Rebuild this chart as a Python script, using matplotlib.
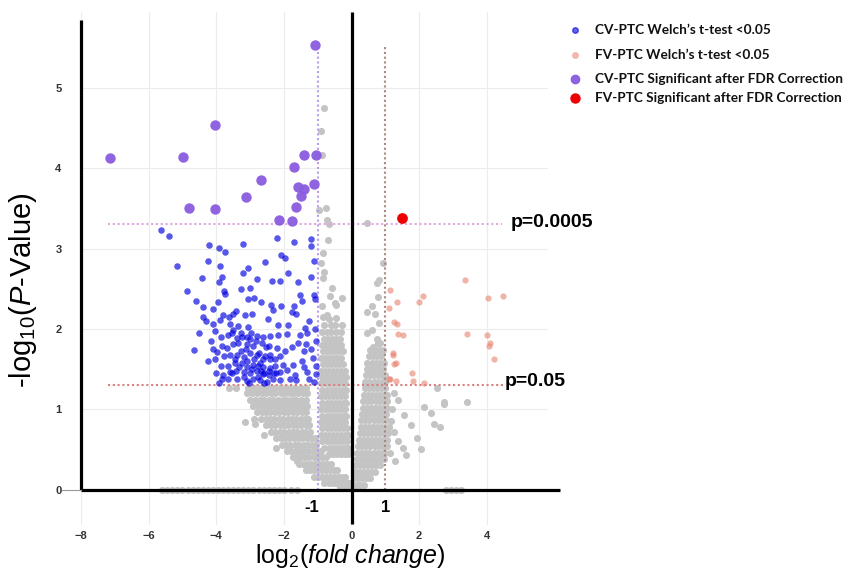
import matplotlib.pyplot as plt
import numpy as np
from matplotlib.lines import Line2D

plt.rcParams['font.family'] = ['Liberation Sans', 'DejaVu Sans']
plt.rcParams['mathtext.fontset'] = 'custom'
plt.rcParams['mathtext.rm'] = 'Liberation Sans'
plt.rcParams['mathtext.it'] = 'Liberation Sans:italic'

# --- data (log2 fold change, -log10 p) ---
# CV-PTC significant after FDR correction (purple)
cv_fdr_x = [-1.07, -4.04, -7.14, -4.98, -1.40, -1.06, -1.70, -2.69, -1.57, -1.40,
            -1.49, -1.11, -3.12, -4.80, -4.04, -1.63, -2.15, -1.75]
cv_fdr_y = [5.54, 4.54, 4.13, 4.14, 4.16, 4.16, 4.02, 3.85, 3.77, 3.74,
            3.66, 3.81, 3.64, 3.50, 3.49, 3.52, 3.36, 3.34]

# FV-PTC significant after FDR correction (red)
fv_fdr_x = [1.49]
fv_fdr_y = [3.38]

# FV-PTC Welch's t-test < 0.05 (pink)
fv_x = [3.36, 4.03, 4.49, 2.11, 2.01, 1.14, 1.35, 1.11, 1.27, 1.34, 1.37, 1.53, 1.24,
        1.31, 1.27, 3.40, 4.02, 4.10, 4.08, 4.20, 1.78, 1.14, 1.32, 1.81, 2.14, 1.22, 1.12]
fv_y = [2.61, 2.39, 2.41, 2.41, 2.33, 2.49, 2.33, 2.26, 2.08, 2.06, 1.94, 1.92, 1.68,
        1.58, 1.56, 1.94, 1.92, 1.83, 1.79, 1.62, 1.45, 1.37, 1.35, 1.35, 1.33, 1.70, 1.38]

# CV-PTC Welch's t-test < 0.05 (blue)
cv_x = [-5.62, -5.39, -4.21, -3.93, -3.75, -3.20, -2.21, -1.71, -1.20, -1.20,
        -5.16, -4.25, -3.90, -2.57, -2.08, -1.97, -3.06, -3.22, -4.41, -3.82,
        -3.92, -2.79, -2.35, -1.58, -1.20, -4.88, -3.78, -3.75, -3.27, -3.00,
        -3.05, -2.89, -2.69, -2.38, -2.08, -2.31, -1.53, -1.45, -1.12, -1.09,
        -1.70, -1.77, -1.65, -4.38, -4.39, -4.30, -4.09, -3.89, -3.80, -3.61,
        -3.42, -3.50, -3.15, -2.95, -3.59, -3.36, -3.51, -3.07, -3.27, -4.04,
        -3.86, -3.64, -3.53, -3.40, -3.25, -3.10, -3.00, -2.79, -2.61, -2.41,
        -2.17, -1.92, -1.52, -1.37, -1.33, -1.07, -4.67, -4.11, -3.99, -3.84,
        -3.69, -3.50, -3.35, -3.10, -2.90, -2.66, -2.45, -2.21, -1.77, -1.57,
        -1.36, -1.19, -4.04, -3.77, -3.59, -3.38, -3.19, -3.00, -2.81, -2.71,
        -2.56, -2.41, -2.11, -3.87, -3.64, -3.45, -3.25, -3.10, -2.90, -2.76,
        -2.61, -2.41, -2.26, -1.13, -3.79, -3.59, -3.42, -3.19, -3.00, -2.81,
        -2.63, -2.45, -2.29, -2.11, -1.92, -1.33, -1.05, -1.05, -3.84, -3.64,
        -3.38, -3.10, -2.90, -2.71, -2.51, -2.31, -2.13, -1.82, -1.64, -3.93,
        -2.45, -3.28, -3.08, -2.93, -2.78, -2.63, -2.53, -2.98, -3.44, -3.54,
        -2.73, -2.83, -3.18, -2.58, -2.42, -2.27, -2.68, -2.88, -3.34, -3.13,
        -3.03, -2.58, -2.22, -2.02, -1.97, -1.72, -1.46, -1.26, -1.41, -1.67,
        -1.10, -1.06, -1.26, -1.41, -4.15, -4.25, -4.50, -4.00, -4.10, -1.87,
        -2.17, -2.48, -3.95, -4.61, -2.12, -1.11, -1.87]
cv_y = [3.23, 3.16, 3.05, 3.01, 2.96, 3.06, 3.13, 3.08, 3.12, 3.03,
        2.78, 2.84, 2.78, 2.83, 2.92, 2.88, 2.76, 2.69, 2.63, 2.65,
        2.59, 2.62, 2.60, 2.58, 2.65, 2.47, 2.47, 2.44, 2.50, 2.51,
        2.37, 2.39, 2.33, 2.30, 2.29, 2.23, 2.42, 2.35, 2.42, 2.37,
        2.28, 2.21, 2.19, 2.27, 2.15, 2.10, 2.06, 2.11, 2.17, 2.15,
        2.22, 2.19, 2.17, 2.18, 2.06, 2.03, 1.99, 2.02, 1.95, 1.97,
        1.90, 1.93, 1.95, 1.89, 1.90, 1.90, 1.87, 1.91, 1.90, 1.91,
        1.92, 1.94, 1.92, 2.01, 1.95, 2.00, 1.74, 1.75, 1.71, 1.79,
        1.76, 1.81, 1.83, 1.81, 1.79, 1.83, 1.79, 1.76, 1.78, 1.83,
        1.81, 1.75, 1.62, 1.66, 1.67, 1.68, 1.65, 1.70, 1.68, 1.58,
        1.66, 1.62, 1.66, 1.54, 1.54, 1.57, 1.58, 1.52, 1.55, 1.54,
        1.52, 1.51, 1.54, 1.64, 1.42, 1.46, 1.48, 1.46, 1.45, 1.47,
        1.44, 1.42, 1.45, 1.46, 1.49, 1.46, 1.54, 1.44, 1.38, 1.38,
        1.38, 1.35, 1.37, 1.36, 1.34, 1.37, 1.36, 1.37, 1.36, 1.33,
        1.48, 1.72, 1.60, 1.50, 1.40, 1.62, 1.78, 1.95, 1.62, 1.45,
        1.70, 1.85, 1.40, 1.45, 1.68, 1.62, 1.48, 1.63, 1.52, 1.75,
        1.33, 1.33, 1.45, 1.55, 1.72, 1.55, 1.60, 1.38, 1.52, 1.42,
        1.34, 1.85, 2.10, 1.73, 1.85, 1.60, 1.95, 1.45, 2.25, 2.05,
        2.05, 2.12, 2.33, 2.35, 2.60, 2.85, 2.70]

# not significant (grey) -- dense cloud read row by row: (y, [x, ...])
gray_rows = [
    (1.27, [-3.62, -3.41, -3.05, -2.88, -2.72, -2.55, -2.42, -2.28, -2.12, -1.98, -1.82, -1.66, -1.50, -1.35]),
    (1.20, [-3.10, -2.95, -2.80, -2.66, -2.52, -2.38, -2.25, -2.10, -1.96, -1.83, -1.70, -1.57, -1.44, -1.32]),
    (1.12, [-3.00, -2.86, -2.72, -2.58, -2.45, -2.31, -2.18, -2.04, -1.90, -1.77, -1.63, -1.50, -1.36]),
    (1.04, [-2.92, -2.78, -2.63, -2.50, -2.37, -2.23, -2.10, -1.96, -1.83, -1.70, -1.56, -1.42, -1.32]),
    (0.96, [-2.80, -2.66, -2.53, -2.40, -2.27, -2.14, -2.00, -1.87, -1.74, -1.60, -1.47, -1.35]),
    (0.88, [-2.67, -2.54, -2.41, -2.28, -2.15, -2.02, -1.89, -1.76, -1.63, -1.50, -1.38, -1.28]),
    (0.80, [-2.52, -2.39, -2.26, -2.13, -2.00, -1.87, -1.74, -1.61, -1.48, -1.36, -1.25]),
    (0.72, [-2.37, -2.25, -2.12, -1.99, -1.86, -1.73, -1.60, -1.47, -1.35, -1.22]),
    (0.64, [-2.22, -2.10, -1.97, -1.84, -1.71, -1.58, -1.45, -1.33, -1.20, -1.08]),
    (0.56, [-2.06, -1.94, -1.81, -1.68, -1.55, -1.42, -1.30, -1.18, -1.05]),
    (0.48, [-1.90, -1.78, -1.65, -1.52, -1.40, -1.28, -1.15, -1.02, -0.90]),
    (0.40, [-1.74, -1.62, -1.50, -1.37, -1.25, -1.12, -1.00, -0.88, -0.76]),
    (0.32, [-1.56, -1.44, -1.32, -1.20, -1.08, -0.96, -0.84, -0.72, -0.60]),
    (0.24, [-1.36, -1.24, -1.12, -1.00, -0.88, -0.76, -0.64, -0.52, -0.42]),
    (0.16, [-1.12, -1.00, -0.88, -0.76, -0.64, -0.52, -0.41, -0.30, -0.20]),
    (0.08, [-0.80, -0.68, -0.56, -0.45, -0.34, -0.24, -0.14, -0.06]),
    (0.03, [-0.35, -0.22, -0.10, 0.00, 0.08]),
    # band just left of zero
    (0.44, [-0.68, -0.56, -0.44, -0.32, -0.20, -0.10]),
    (0.52, [-0.80, -0.68, -0.55, -0.43, -0.31, -0.19, -0.09]),
    (0.60, [-0.86, -0.74, -0.62, -0.50, -0.38, -0.26, -0.14]),
    (0.68, [-0.90, -0.78, -0.66, -0.54, -0.42, -0.30, -0.18, -0.10]),
    (0.76, [-0.86, -0.74, -0.62, -0.50, -0.38, -0.26, -0.14]),
    (0.84, [-0.90, -0.78, -0.66, -0.54, -0.42, -0.30, -0.18]),
    (0.92, [-0.86, -0.74, -0.62, -0.50, -0.38, -0.26, -0.15]),
    (1.00, [-0.90, -0.78, -0.66, -0.54, -0.42, -0.30, -0.19]),
    (1.08, [-0.86, -0.74, -0.62, -0.50, -0.38, -0.26, -0.15]),
    (1.16, [-0.90, -0.78, -0.66, -0.54, -0.42, -0.30, -0.19]),
    (1.24, [-0.86, -0.74, -0.62, -0.50, -0.38, -0.26, -0.16]),
    (1.32, [-0.90, -0.78, -0.66, -0.54, -0.42, -0.30, -0.20]),
    (1.40, [-0.86, -0.74, -0.62, -0.50, -0.38, -0.26, -0.17]),
    (1.48, [-0.90, -0.78, -0.66, -0.54, -0.42, -0.30, -0.20]),
    (1.56, [-0.85, -0.73, -0.61, -0.49, -0.37, -0.25]),
    (1.64, [-0.90, -0.78, -0.66, -0.54, -0.42, -0.30]),
    (1.72, [-0.84, -0.72, -0.60, -0.48, -0.36, -0.25]),
    (1.80, [-0.88, -0.76, -0.64, -0.52, -0.40, -0.30]),
    (1.88, [-0.82, -0.70, -0.58, -0.46, -0.35]),
    (1.96, [-0.86, -0.72, -0.60, -0.45, -0.30]),
    (2.05, [-0.80, -0.62, -0.50, -0.29]),
    # right arm
    (0.06, [0.05, 0.15, 0.26, 0.36]),
    (0.14, [0.08, 0.20, 0.32, 0.44, 0.55]),
    (0.22, [0.10, 0.22, 0.34, 0.46, 0.58, 0.70]),
    (0.30, [0.13, 0.25, 0.37, 0.49, 0.61, 0.73, 0.85]),
    (0.38, [0.15, 0.27, 0.39, 0.51, 0.63, 0.75, 0.87, 0.97]),
    (0.46, [0.17, 0.29, 0.41, 0.53, 0.65, 0.77, 0.89, 1.00]),
    (0.54, [0.20, 0.32, 0.44, 0.56, 0.68, 0.80, 0.92, 1.04]),
    (0.62, [0.22, 0.34, 0.46, 0.58, 0.70, 0.82, 0.94, 1.06]),
    (0.70, [0.25, 0.37, 0.49, 0.61, 0.73, 0.85, 0.97, 1.08]),
    (0.78, [0.27, 0.39, 0.51, 0.63, 0.75, 0.87, 0.99, 1.10]),
    (0.86, [0.29, 0.41, 0.53, 0.65, 0.77, 0.89, 1.01]),
    (0.94, [0.31, 0.43, 0.55, 0.67, 0.79, 0.91, 1.03]),
    (1.02, [0.33, 0.45, 0.57, 0.69, 0.81, 0.93, 1.05]),
    (1.10, [0.35, 0.47, 0.59, 0.71, 0.83, 0.95, 1.06]),
    (1.18, [0.37, 0.49, 0.61, 0.73, 0.85, 0.97, 1.06]),
    (1.26, [0.39, 0.51, 0.63, 0.75, 0.87, 0.99]),
    (1.34, [0.41, 0.53, 0.65, 0.77, 0.89, 1.00]),
    (1.42, [0.43, 0.55, 0.67, 0.79, 0.91, 1.00]),
    (1.50, [0.45, 0.57, 0.69, 0.81, 0.93]),
    (1.58, [0.47, 0.60, 0.72, 0.84, 0.96]),
    (1.66, [0.52, 0.64, 0.76, 0.88]),
    (1.74, [0.56, 0.68, 0.80, 0.92]),
    # hidden under the baseline
    (-0.01, [-5.60, -5.45, -5.30, -5.15, -5.00, -4.85, -4.70, -4.55, -4.40, -4.25, -4.10,
             -3.95, -3.80, -3.65, -3.50, -3.35, -3.20, -3.05, -2.90, -2.75, -2.60, -2.45,
             -2.30, -2.15, -2.00, -1.80, -1.60, 2.80, 2.95, 3.10, 3.25]),
]
gray_sparse = [
    (-0.81, 4.75), (-0.91, 4.46), (-0.88, 4.17), (-0.75, 3.50), (-0.95, 3.48), (-0.72, 3.36),
    (-0.66, 3.31), (-0.70, 3.11), (-0.85, 2.95), (-0.91, 2.82), (-0.81, 2.71), (-0.83, 2.63),
    (-0.59, 2.51), (-0.27, 2.38), (-0.64, 2.41), (-0.49, 2.32), (-0.88, 2.28), (-0.72, 2.17),
    (-0.46, 2.30), (-0.84, 2.15), (-0.66, 2.12), (-0.45, 2.14),
    (0.45, 3.32), (0.94, 2.82), (0.82, 2.61), (0.76, 2.57), (0.79, 2.40), (0.60, 2.28),
    (0.47, 2.21), (0.70, 2.19), (0.82, 2.07), (0.60, 1.99), (0.47, 1.95), (0.75, 1.88),
    (0.79, 1.82), (0.63, 1.78), (0.83, 1.83),
    (1.36, 1.11), (1.56, 0.93), (1.75, 0.80), (1.95, 0.64), (2.14, 1.03), (2.34, 0.95),
    (2.43, 0.82), (2.72, 1.07), (2.63, 0.78), (2.04, 0.50), (3.41, 1.09), (2.53, 1.27),
    (1.51, 0.52), (1.61, 0.43), (1.27, 0.72), (1.36, 0.60), (1.20, 1.00), (1.25, 1.20),
    (1.18, 0.85), (1.30, 0.35), (1.15, 0.45), (2.74, 1.09),
    (-3.16, 0.84), (-2.87, 0.88), (-2.84, 0.82), (-2.58, 0.68), (-2.24, 0.52), (-1.61, 0.35),
]

gray_x = [x for y, xs in gray_rows for x in xs] + [p[0] for p in gray_sparse]
gray_y = [y for y, xs in gray_rows for x in xs] + [p[1] for p in gray_sparse]

leg_labels = ["CV-PTC Welch\u2019s t-test <0.05", "FV-PTC Welch\u2019s t-test <0.05",
              "CV-PTC Significant after FDR Correction", "FV-PTC Significant after FDR Correction"]

c_gray = '#c4c4c4'
c_blue = '#0000e0'
c_pink = '#e8806f'
c_purple = '#8a5ce0'
c_red = '#ee0000'

fig = plt.figure(figsize=(8.48, 5.7), dpi=100)
ax = fig.add_axes([81 / 848, 1 - 525 / 570, (548 - 81) / 848, (525 - 12) / 570])
ax.set_xlim(-8, 5.81)
ax.set_ylim(-0.442, 5.946)

ax.set_xticks([-8, -6, -4, -2, 0, 2, 4])
ax.set_yticks([0, 1, 2, 3, 4, 5])
ax.grid(True, color='#ececec', linewidth=0.8)
ax.set_axisbelow(True)
for s in ax.spines.values():
    s.set_visible(False)
ax.tick_params(axis='both', length=0, labelsize=8, labelcolor='#333333')
ax.tick_params(axis='y', pad=14)
ax.tick_params(axis='x', pad=4)
for lbl in ax.get_xticklabels() + ax.get_yticklabels():
    lbl.set_fontweight('bold')

# points
ax.scatter(gray_x, gray_y, s=26, color=c_gray, linewidths=0, zorder=2)
ax.scatter(fv_x, fv_y, s=20, color=c_pink, alpha=0.6, linewidths=0, zorder=4)
ax.scatter(cv_x, cv_y, s=22, color=c_blue, alpha=0.66, linewidths=0, zorder=4)
ax.scatter(cv_fdr_x, cv_fdr_y, s=56, color=c_purple, alpha=0.95, linewidths=0, zorder=5)
ax.scatter(fv_fdr_x, fv_fdr_y, s=60, color=c_red, linewidths=0, zorder=5)

# threshold lines
dots = (0, (1, 1.3))
ax.plot([-7.2, 4.44], [3.3, 3.3], color='#dfa6df', lw=1.5, ls=dots, zorder=3)
ax.plot([-7.2, 4.48], [1.3, 1.3], color='#d88080', lw=1.5, ls=dots, zorder=3)
ax.plot([-1, -1], [0, 5.47], color='#b89ee6', lw=1.5, ls=dots, zorder=3)
ax.plot([1, 1], [0, 5.51], color='#a88880', lw=1.5, ls=dots, zorder=3)

# heavy axes lines
ax.plot([-8, -8], [0, 5.85], color='black', lw=2.3, solid_capstyle='butt', clip_on=False, zorder=6)
ax.plot([-8, 6.17], [0, 0], color='black', lw=2.3, solid_capstyle='butt', clip_on=False, zorder=6)
ax.plot([0, 0], [-0.43, 5.946], color='black', lw=2.3, solid_capstyle='butt', clip_on=False, zorder=6)
ax.plot([-8.56, -8], [0, 0], color='#999999', lw=0.8, clip_on=False, zorder=6)

ax.text(4.72, 3.32, 'p=0.0005', fontsize=14, fontweight='bold', va='center', ha='left')
ax.text(4.54, 1.34, 'p=0.05', fontsize=14, fontweight='bold', va='center', ha='left')
ax.text(-1.17, -0.22, '-1', fontsize=12, fontweight='bold', va='center', ha='center')
ax.text(1.02, -0.22, '1', fontsize=12, fontweight='bold', va='center', ha='center')

fig.text(350.5 / 848, 1 - 556 / 570, r'log$_\mathregular{2}$($\it{fold\ change}$)',
         fontsize=18, ha='center', va='center')
fig.text(23.5 / 848, 1 - 290 / 570, r'-log$_\mathregular{10}$($\it{P}$-Value)',
         fontsize=21, ha='center', va='center', rotation=90)

# legend (outside the axes, top right)
leg_y = [30, 55, 79, 97.5]
leg_colors = [c_blue, '#f2b8ae', c_purple, c_red]
leg_ms = [4.0, 4.0, 6.0, 6.5]
leg_alpha = [0.6, 1.0, 0.95, 1.0]
for lab, yy, col, ms, al in zip(leg_labels, leg_y, leg_colors, leg_ms, leg_alpha):
    fy = 1 - yy / 570
    fig.add_artist(Line2D([575 / 848], [fy], transform=fig.transFigure, marker='o',
                          markersize=ms, color=col, alpha=al, linestyle='none'))
    fig.text(595 / 848, fy, lab, fontsize=9.8, fontweight='bold', family=['Lato', 'DejaVu Sans'],
             va='center', ha='left', color='#111111')

fig.savefig('out.png', dpi=100, facecolor='white')
